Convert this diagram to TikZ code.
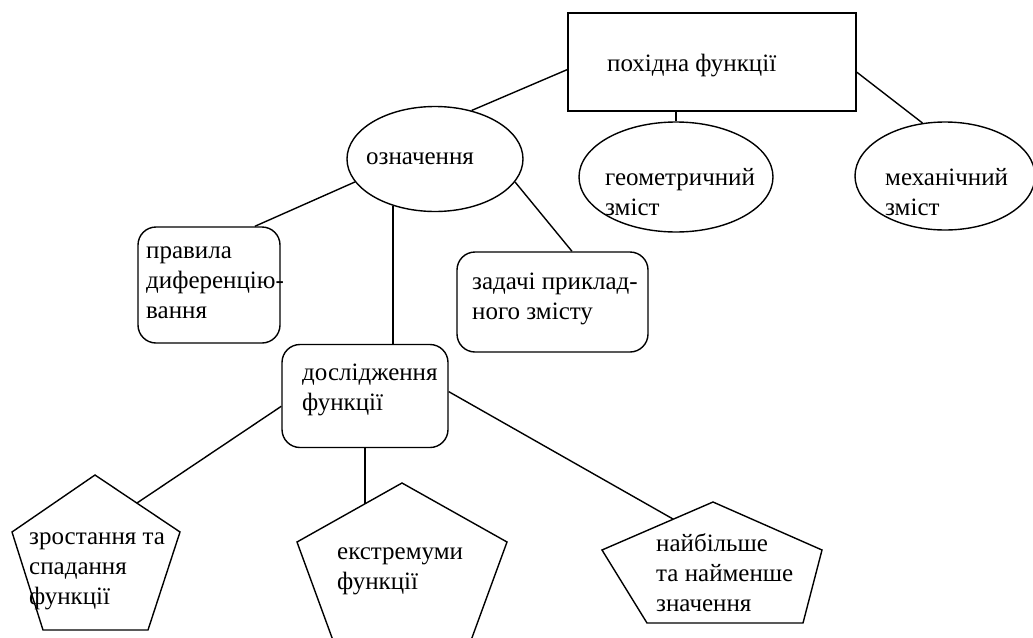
\documentclass[tikz,border=0pt]{standalone}
\usepackage{fontspec}
\setmainfont{Liberation Serif}
\usetikzlibrary{shapes.geometric}
\tikzset{
  lbl/.style={inner sep=0pt,anchor=west,align=left,font=\fontsize{25}{30}\selectfont},
  sqbox/.style={draw,line width=1.4pt,minimum width=288,minimum height=98,inner sep=0pt},
  rbox/.style={draw,line width=1.4pt,rounded corners=18pt,inner sep=0pt},
  oval/.style={draw,line width=1.4pt,ellipse,inner sep=0pt},
  link/.style={line width=1.4pt},
  pent/.style={line width=1.4pt,line join=miter}
}
\begin{document}
\begin{tikzpicture}[x=1pt,y=-1pt]
  \useasboundingbox (0,0) rectangle (1033,637);
  \clip (0,0) rectangle (1033,637);
  % top level
  \node[sqbox] (poh) at (712,62) {};
  \node[lbl] (poh text) at (607,66) {похідна функції};
  \node[oval,minimum width=176,minimum height=105] (ozn) at (435,159) {};
  \node[lbl] (ozn text) at (366,159) {означення};
  \node[oval,minimum width=194,minimum height=110] (geo) at (676,177) {};
  \node[lbl] (geo text) at (605,192) {геометричний\\зміст};
  \node[oval,minimum width=180,minimum height=108] (mech) at (945,176) {};
  \node[lbl] (mech text) at (885,192) {механічний\\зміст};
  % second level
  \node[rbox,minimum width=142,minimum height=116] (prav) at (209,285) {};
  \node[lbl] (prav text) at (146,283) {правила\\диференцію-\\вання};
  \node[rbox,minimum width=191,minimum height=100] (zad) at (552.5,302) {};
  \node[lbl] (zad text) at (472,299) {задачі приклад-\\ного змісту};
  \node[rbox,minimum width=166,minimum height=103] (dosl) at (365,396) {};
  \node[lbl] (dosl text) at (302,390) {дослідження\\функції};
  % pentagons
  \draw[pent] (95,475) coordinate (zr top) -- (180,532) -- (148,630) -- (43,630) -- (12,532) -- cycle;
  \coordinate (zr in) at (137,503);
  \node[lbl] (zr) at (29,571) {зростання та\\спадання\\функції};
  \draw[pent] (402,483) coordinate (ekstr top) -- (507,542) -- (462,665) -- (342,665) -- (297,542) -- cycle;
  \coordinate (ekstr in) at (365,504);
  \node[lbl] (ekstr) at (337,571) {екстремуми\\функції};
  \draw[pent] (713,502) coordinate (naib top) -- (822,550) -- (803,623) -- (647,623) -- (602,550) -- cycle;
  \coordinate (naib in) at (673,519);
  \node[lbl] (naib) at (656,573) {найбільше\\та найменше\\значення};
  % connectors
  \draw[link] (poh.183) -- (ozn.53);
  \draw[link] (poh.south -| geo.north) -- (geo.north);
  \draw[link] (poh.356) -- (mech.113);
  \draw[link] (ozn.196) -- (prav.52);
  \draw[link] (ozn.228) -- (ozn.228 |- dosl.north);
  \draw[link] (ozn.344) -- (zad.69);
  \draw[link] (dosl.187) -- (zr in);
  \draw[link] (dosl.south) -- (ekstr in);
  \draw[link] (dosl.3) -- (naib in);
\end{tikzpicture}
\end{document}
